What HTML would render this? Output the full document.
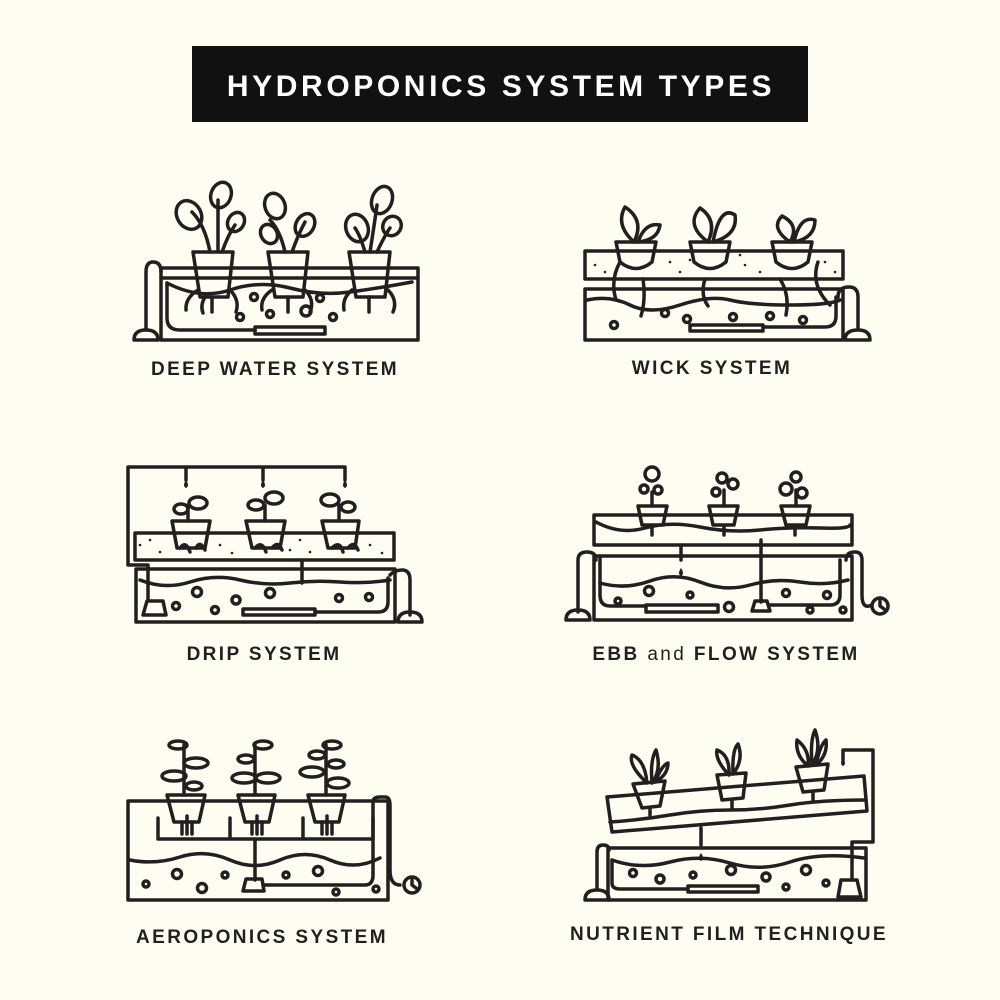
<!DOCTYPE html>
<html><head><meta charset="utf-8"><style>
html,body{margin:0;padding:0;background:#fdfdf1;}
svg{display:block}
text{font-family:"Liberation Sans",sans-serif;font-weight:bold;fill:#231f20;letter-spacing:2.4px}
</style></head><body>
<svg width="1000" height="1000" viewBox="0 0 1000 1000">
<rect width="1000" height="1000" fill="#fdfdf1"/>
<rect x="192" y="46" width="616" height="76" fill="#111"/>
<text x="501" y="96" text-anchor="middle" style="fill:#fff;font-size:30px;letter-spacing:3.6px">HYDROPONICS SYSTEM TYPES</text>

<g fill="none" stroke="#231f20" stroke-width="3.5" stroke-linecap="round" stroke-linejoin="round">
<!-- DEEP WATER -->
<rect x="161" y="268" width="257" height="72"/>
<line x1="161" y1="278" x2="418" y2="278"/>
<path d="M167 283 Q200 300 230 290 T290 288 T350 292 T412 282"/>
<path d="M167 283 V318 Q167 330 180 330 H255"/>
<rect x="255" y="327" width="70" height="7"/>
<path d="M161 272 Q161 262 153 262 Q146 262 146 272 V330"/>
<path d="M134 340 Q134 330 146 330 Q158 330 158 340 Z"/>
<path d="M193 252 H233 L228 297 H200 Z"/>
<path d="M198 290 Q185 298 186 310 M230 290 Q240 300 236 312 M212 297 V312 M205 297 Q200 305 203 313"/>
<path d="M268 252 H308 L303 297 H275 Z"/>
<path d="M272 290 Q260 298 262 310 M305 290 Q315 300 310 312 M288 297 V312"/>
<path d="M349 252 H390 L385 297 H356 Z"/>
<path d="M352 290 Q342 298 344 310 M388 290 Q398 300 393 312 M369 297 V312"/>
<path d="M210 252 Q205 225 192 212"/><ellipse cx="189" cy="215" rx="12" ry="15" transform="rotate(-30 189 215)"/>
<path d="M218 252 Q218 220 218 200"/><ellipse cx="221" cy="195" rx="10" ry="13" transform="rotate(20 221 195)"/>
<path d="M222 252 Q228 235 235 225"/><ellipse cx="236" cy="222" rx="8" ry="10" transform="rotate(30 236 222)"/>
<path d="M285 252 Q280 230 270 220"/><ellipse cx="275" cy="206" rx="10" ry="13" transform="rotate(-20 275 206)"/><ellipse cx="269" cy="234" rx="8" ry="10" transform="rotate(-30 269 234)"/>
<path d="M292 252 Q298 235 305 222"/><ellipse cx="305" cy="225" rx="9" ry="12" transform="rotate(30 305 225)"/>
<path d="M365 252 Q360 235 355 228"/><ellipse cx="357" cy="228" rx="11" ry="14" transform="rotate(-20 357 228)"/>
<path d="M370 252 Q375 220 377 205"/><ellipse cx="382" cy="200" rx="10" ry="14" transform="rotate(20 382 200)"/>
<path d="M377 252 Q385 235 390 228"/><ellipse cx="392" cy="226" rx="9" ry="10" transform="rotate(30 392 226)"/>
<circle cx="254" cy="297" r="3.5"/><circle cx="320" cy="298" r="3.5"/><circle cx="240" cy="317" r="3.5"/><circle cx="270" cy="314" r="3.5"/><circle cx="306" cy="311" r="5"/><circle cx="333" cy="317" r="3.5"/>

<!-- WICK -->
<rect x="585" y="251" width="258" height="28"/>
<rect x="585" y="289" width="258" height="51"/>
<path d="M587 300 Q610 295 630 305 T680 305 T730 300 T790 305 T840 300"/>
<path d="M643 279 Q646 300 641 316 M705 279 Q700 295 708 306 M780 279 Q790 295 786 315 M620 262 Q610 280 616 300 M818 262 Q810 285 830 305"/>
<path d="M838 297 Q838 287 849 287 Q858 287 858 297 V330 M845 340 Q845 330 858 330 Q870 330 870 340 Z"/>
<path d="M836 297 V316 Q836 327 825 327 H763"/>
<rect x="690" y="325" width="73" height="6"/>
<circle cx="614" cy="325" r="3.5"/><circle cx="665" cy="313" r="3.5"/><circle cx="687" cy="319" r="3.5"/><circle cx="733" cy="317" r="3.5"/><circle cx="770" cy="316" r="3.5"/><circle cx="803" cy="320" r="3.5"/>
<path d="M616 242 H656 L652 262 Q636 275 620 262 Z"/>
<path d="M690 242 H730 L726 262 Q710 275 694 262 Z"/>
<path d="M772 242 H812 L808 262 Q792 275 776 262 Z"/>
<path d="M634 242 Q615 225 625 207 Q645 220 634 242 M638 242 Q645 222 660 225 Q658 240 638 242"/>
<path d="M708 242 Q685 225 700 208 Q718 220 708 242 M713 242 Q720 205 735 215 Q738 235 713 242"/>
<path d="M790 242 Q770 228 782 216 Q800 225 790 242 M794 242 Q800 215 815 220 Q815 238 794 242"/>

<!-- DRIP -->
<path d="M186 467 V480 M263 467 V480 M345 467 V480 M345 467 H128 V565 H148 V600"/>
<path d="M143 615 L147 601 H163 L166 615 Z"/>
<rect x="135" y="533" width="259" height="27"/>
<path d="M136 569 H395 M136 569 V622 H395 V569"/>
<path d="M140 580 Q165 590 190 582 T240 580 T290 583 T340 582 T390 580"/>
<path d="M302 560 V580 M390 575 Q395 570 402 570 Q410 570 410 580 V615 M398 622 Q398 612 410 612 Q422 612 422 622 Z"/>
<path d="M388 578 V602 Q388 612 378 612 H315"/>
<rect x="243" y="609" width="72" height="6"/>
<circle cx="197" cy="592" r="4.5"/><circle cx="236" cy="600" r="4"/><circle cx="270" cy="593" r="4.5"/><circle cx="339" cy="598" r="3.5"/><circle cx="369" cy="597" r="3.5"/><circle cx="176" cy="606" r="3.5"/><circle cx="215" cy="610" r="3.5"/>
<path d="M172 521 H210 L205 548 H177 Z M246 521 H285 L280 548 H252 Z M322 521 H359 L355 548 H328 Z"/>
<path d="M188 521 V505 M265 521 V505 M339 521 V505"/>
<ellipse cx="181" cy="509" rx="7" ry="5"/><ellipse cx="198" cy="503" rx="9" ry="6"/>
<ellipse cx="256" cy="505" rx="8" ry="5"/><ellipse cx="274" cy="498" rx="9" ry="6"/>
<ellipse cx="330" cy="500" rx="9" ry="6"/><ellipse cx="348" cy="507" rx="7" ry="5"/>
<path d="M180 548 Q186 540 190 552 M196 548 Q200 540 205 550 M255 548 Q262 540 266 552 M272 548 Q278 540 282 550 M332 548 Q340 540 343 552 M348 548 Q354 540 358 550"/>

<!-- EBB -->
<rect x="594" y="515" width="258" height="30"/>
<path d="M596 522 Q620 535 645 528 T700 527 T760 530 T820 528 T850 525"/>
<path d="M594 556 H852 M594 556 V620 H852 V556"/>
<path d="M600 583 Q625 590 650 581 T700 582 T750 585 T800 582 T848 580"/>
<path d="M681 545 V560 M761 540 V602 M600 556 V595 Q600 606 610 606 H646"/>
<rect x="646" y="605" width="72" height="7"/>
<path d="M752 611 L755 601 H767 L770 611 Z M770 605 H830 Q840 605 840 595 V560"/>
<path d="M596 560 Q596 552 587 552 Q578 552 578 560 V612 M566 620 Q566 610 578 610 Q590 610 590 620 Z"/>
<path d="M846 560 Q846 552 855 552 Q862 552 862 560 V595 Q862 610 872 605"/>
<circle cx="880" cy="606" r="8"/><path d="M880 601 V606 L884 609"/>
<circle cx="618" cy="601" r="3"/><circle cx="649" cy="591" r="4.5"/><circle cx="690" cy="595" r="3"/><circle cx="729" cy="607" r="4.5"/><circle cx="786" cy="593" r="3.5"/><circle cx="827" cy="595" r="3.5"/><circle cx="810" cy="610" r="3"/><circle cx="843" cy="610" r="3"/>
<path d="M638 506 H667 L663 525 H642 Z M709 506 H738 L734 525 H713 Z M781 506 H810 L806 525 H786 Z"/>
<path d="M652 506 V492 M724 506 V490 M796 506 V490"/>
<circle cx="652" cy="474" r="7"/><circle cx="644" cy="489" r="4"/><circle cx="658" cy="490" r="4"/>
<circle cx="722" cy="478" r="5"/><circle cx="733" cy="484" r="5"/><circle cx="716" cy="492" r="4"/>
<circle cx="796" cy="477" r="5"/><circle cx="786" cy="489" r="6"/><circle cx="802" cy="493" r="5"/>
<path d="M652 527 V535 M724 527 V535 M795 527 V535"/>

<!-- AEROPONICS -->
<rect x="128" y="801" width="260" height="99"/>
<path d="M158 818 V839 H373 V818 M230 818 V839 M303 818 V839 M255 839 V880"/>
<path d="M130 860 Q155 865 180 857 T230 860 T280 860 T330 860 T380 858"/>
<path d="M243 891 L246 879 H262 L264 891 Z M264 885 H365 Q373 885 373 875 V802 Q373 797 380 797 H385 Q390 797 390 805 V870 Q390 885 400 885"/>
<circle cx="412" cy="885" r="8"/><path d="M412 880 V885 L416 888"/>
<circle cx="177" cy="874" r="4.5"/><circle cx="146" cy="884" r="3"/><circle cx="202" cy="888" r="4.5"/><circle cx="225" cy="875" r="3"/><circle cx="286" cy="875" r="3"/><circle cx="318" cy="871" r="4.5"/><circle cx="336" cy="892" r="3"/><circle cx="376" cy="889" r="3"/>
<path d="M167 795 H205 L199 822 H174 Z M238 795 H275 L269 822 H245 Z M308 795 H345 L339 822 H315 Z"/>
<path d="M182 822 V834 M187 816 V834 M192 822 V834 M252 822 V834 M257 816 V834 M262 822 V834 M322 822 V834 M327 816 V834 M332 822 V834"/>
<path d="M184 795 V745 M255 795 V745 M326 795 V745"/>
<ellipse cx="178" cy="745" rx="9" ry="4"/><ellipse cx="196" cy="763" rx="12" ry="5"/><ellipse cx="174" cy="776" rx="12" ry="5"/><ellipse cx="194" cy="786" rx="8" ry="4"/>
<ellipse cx="263" cy="745" rx="9" ry="4"/><ellipse cx="246" cy="759" rx="8" ry="4"/><ellipse cx="244" cy="778" rx="12" ry="5"/><ellipse cx="268" cy="778" rx="12" ry="5"/>
<ellipse cx="332" cy="745" rx="9" ry="4"/><ellipse cx="317" cy="755" rx="8" ry="4"/><ellipse cx="336" cy="764" rx="8" ry="4"/><ellipse cx="312" cy="772" rx="12" ry="5"/><ellipse cx="338" cy="783" rx="11" ry="5"/>

<!-- NFT -->
<path d="M607 797 L864 776 L867 811 L612 832 Z"/>
<path d="M610 822 Q640 820 670 815 T730 810 T790 805 T866 800"/>
<path d="M608 848 H866 M608 848 V900 H866 V848"/>
<path d="M612 860 Q640 870 670 862 T730 863 T790 862 T864 858"/>
<path d="M701 828 V845 M843 760 V750 H873 V842 H852 V880"/>
<path d="M838 897 L841 880 H857 L861 897 Z"/>
<path d="M609 850 Q609 845 603 845 Q597 845 597 852 V890 M585 900 Q585 890 597 890 Q609 890 609 900 Z"/>
<path d="M612 860 V883 Q612 889 620 889 H688"/>
<rect x="688" y="886" width="70" height="6"/>
<circle cx="633" cy="873" r="3.5"/><circle cx="660" cy="879" r="4"/><circle cx="693" cy="875" r="3"/><circle cx="731" cy="870" r="4.5"/><circle cx="766" cy="877" r="4"/><circle cx="806" cy="870" r="4.5"/><circle cx="786" cy="887" r="3"/><circle cx="826" cy="883" r="3"/>
<path d="M633 784 L665 781 L660 806 L642 808 Z M717 775 L746 773 L743 798 L722 800 Z M796 767 L828 764 L824 790 L803 792 Z"/>
<path d="M650 808 V815 M732 800 V808 M813 792 V800"/>
<path d="M647 783 Q628 765 632 755 Q645 760 647 783 M652 783 Q650 760 656 750 Q662 770 652 783 M655 782 Q662 765 668 763 Q668 775 655 782"/>
<path d="M729 775 Q715 760 717 750 Q730 755 729 775 M733 774 Q732 750 738 744 Q744 760 733 774"/>
<path d="M808 766 Q795 755 797 740 Q810 750 808 766 M812 765 Q810 740 815 730 Q822 750 812 765 M816 765 Q820 745 826 740 Q828 755 816 765"/>
</g>
<g fill="#231f20">
<path d="M186 480 q-4 6 0 8 q4 -2 0 -8Z M263 480 q-4 6 0 8 q4 -2 0 -8Z M345 480 q-4 6 0 8 q4 -2 0 -8Z M302 577 q-4 6 0 8 q4 -2 0 -8Z M681 568 q-4 6 0 8 q4 -2 0 -8Z M701 853 q-4 6 0 8 q4 -2 0 -8Z M843 758 q-4 6 0 8 q4 -2 0 -8Z"/>
<circle cx="140" cy="545" r="1.3"/><circle cx="160" cy="552" r="1.3"/><circle cx="150" cy="540" r="1.3"/><circle cx="220" cy="545" r="1.3"/><circle cx="232" cy="553" r="1.3"/><circle cx="300" cy="540" r="1.3"/><circle cx="310" cy="552" r="1.3"/><circle cx="370" cy="545" r="1.3"/><circle cx="382" cy="553" r="1.3"/><circle cx="290" cy="550" r="1.3"/>
<circle cx="595" cy="265" r="1.3"/><circle cx="605" cy="272" r="1.3"/><circle cx="670" cy="262" r="1.3"/><circle cx="680" cy="272" r="1.3"/><circle cx="745" cy="265" r="1.3"/><circle cx="760" cy="272" r="1.3"/><circle cx="825" cy="262" r="1.3"/><circle cx="835" cy="272" r="1.3"/><circle cx="690" cy="260" r="1.3"/><circle cx="740" cy="255" r="1.3"/>
</g>
<g style="font-size:19px">
<text x="275" y="375" text-anchor="middle">DEEP WATER SYSTEM</text>
<text x="712" y="374" text-anchor="middle">WICK SYSTEM</text>
<text x="264" y="660" text-anchor="middle">DRIP SYSTEM</text>
<text x="726" y="660" text-anchor="middle">EBB <tspan style="font-weight:normal">and</tspan> FLOW SYSTEM</text>
<text x="262" y="943" text-anchor="middle">AEROPONICS SYSTEM</text>
<text x="729" y="940" text-anchor="middle">NUTRIENT FILM TECHNIQUE</text>
</g>
</svg>
</body></html>
